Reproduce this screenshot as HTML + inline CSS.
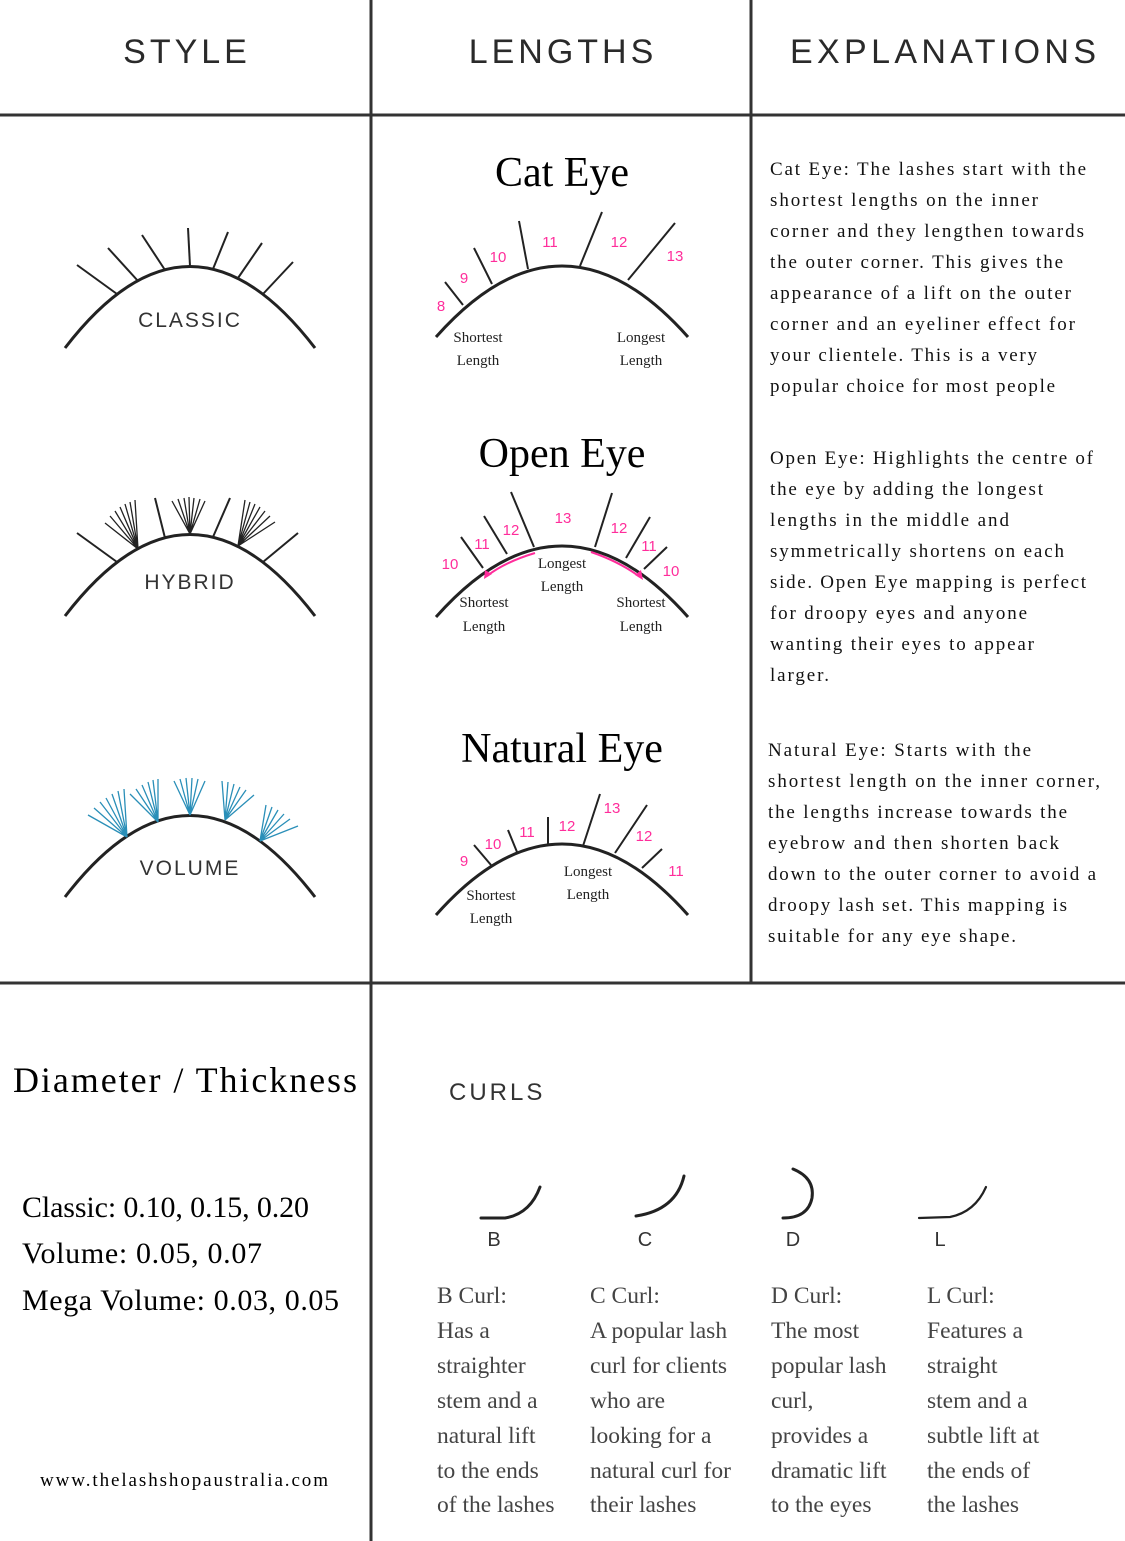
<!DOCTYPE html>
<html><head><meta charset="utf-8"><style>
html,body{margin:0;padding:0;background:#fff;}
svg{display:block}
.h{font-family:"Liberation Sans",sans-serif;font-size:34px;fill:#2a2a2a;letter-spacing:4px}
.t{font-family:"Liberation Serif",serif;fill:#000}
.e{font-family:"Liberation Serif",serif;font-size:19px;fill:#111}
.p{font-family:"Liberation Sans",sans-serif;font-size:15px;fill:#ff2d9b}
.s{font-family:"Liberation Serif",serif;font-size:15px;fill:#222}
.lab{font-family:"Liberation Sans",sans-serif;font-size:21px;fill:#333;letter-spacing:2px}
.c{font-family:"Liberation Serif",serif;font-size:23.5px;fill:#444}
</style></head><body>
<svg width="1125" height="1541" viewBox="0 0 1125 1541" xmlns="http://www.w3.org/2000/svg">
<g stroke="#333" stroke-width="3" fill="none">
<line x1="371" y1="0" x2="371" y2="1541"/>
<line x1="751" y1="0" x2="751" y2="983"/>
<line x1="0" y1="115" x2="1125" y2="115"/>
<line x1="0" y1="983" x2="1125" y2="983"/>
</g>
<text class="h" x="187" y="63" text-anchor="middle">STYLE</text>
<text class="h" x="563" y="63" text-anchor="middle">LENGTHS</text>
<text class="h" x="790" y="63" textLength="310">EXPLANATIONS</text>

<!-- Classic -->
<g stroke="#222" stroke-width="2" fill="none">
<path d="M65 348 Q190 185 315 348" stroke-width="3"/>
<line x1="117" y1="294" x2="77" y2="265"/>
<line x1="138" y1="281" x2="108" y2="248"/>
<line x1="165" y1="270" x2="142" y2="235"/>
<line x1="190" y1="266" x2="188" y2="228"/>
<line x1="213" y1="269" x2="228" y2="232"/>
<line x1="238" y1="278" x2="262" y2="243"/>
<line x1="263" y1="294" x2="293" y2="262"/>
</g>
<text class="lab" x="190" y="327" text-anchor="middle">CLASSIC</text>

<!-- Hybrid -->
<g stroke="#222" stroke-width="2" fill="none" transform="translate(0,268)">
<path d="M65 348 Q190 185 315 348" stroke-width="3"/>
<line x1="117" y1="294" x2="77" y2="265"/>
<line x1="165" y1="270" x2="155" y2="230"/>
<line x1="213" y1="269" x2="230" y2="230"/>
<line x1="263" y1="294" x2="298" y2="265"/>
<g stroke-width="1.3">
<path d="M138 281 L105 255 M138 281 L110 248 M138 281 L115 243 M138 281 L120 239 M138 281 L125 236 M138 281 L130 234 M138 281 L135 232"/>
<path d="M190 266 L172 233 M190 266 L178 231 M190 266 L184 230 M190 266 L189 229 M190 266 L194 230 M190 266 L200 231 M190 266 L205 233"/>
<path d="M238 278 L245 232 M238 278 L250 234 M238 278 L255 236 M238 278 L260 239 M238 278 L265 243 M238 278 L270 248 M238 278 L275 254"/>
</g>
</g>
<text class="lab" x="190" y="589" text-anchor="middle">HYBRID</text>

<!-- Volume -->
<g transform="translate(0,549)">
<path d="M65 348 Q190 185 315 348" stroke="#222" stroke-width="3" fill="none"/>
<g stroke="#2a8fb8" stroke-width="1.3" fill="none">
<path d="M127 288 L88 266 M127 288 L94 259 M127 288 L100 253 M127 288 L106 249 M127 288 L112 245 M127 288 L118 242 M127 288 L124 240"/>
<path d="M158 273 L130 245 M158 273 L136 240 M158 273 L142 236 M158 273 L148 233 M158 273 L153 231 M158 273 L158 230"/>
<path d="M190 266 L174 232 M190 266 L180 230 M190 266 L186 229 M190 266 L192 229 M190 266 L198 230 M190 266 L205 232"/>
<path d="M225 271 L222 232 M225 271 L228 233 M225 271 L234 235 M225 271 L240 238 M225 271 L246 241 M225 271 L254 246"/>
<path d="M260 292 L266 256 M260 292 L272 258 M260 292 L278 261 M260 292 L284 265 M260 292 L290 270 M260 292 L298 277"/>
</g>
</g>
<text class="lab" x="190" y="875" text-anchor="middle">VOLUME</text>

<!-- Cat Eye -->
<text class="t" x="562" y="186" font-size="42" text-anchor="middle">Cat Eye</text>
<g stroke="#222" stroke-width="2" fill="none">
<path d="M436 337 Q562 195 688 337" stroke-width="3"/>
<line x1="463" y1="305" x2="445" y2="282"/>
<line x1="492" y1="284" x2="474" y2="248"/>
<line x1="528" y1="269" x2="519" y2="221"/>
<line x1="580" y1="266" x2="602" y2="212"/>
<line x1="628" y1="280" x2="675" y2="223"/>
</g>
<text class="p" x="441" y="311" text-anchor="middle">8</text>
<text class="p" x="464" y="283" text-anchor="middle">9</text>
<text class="p" x="498" y="262" text-anchor="middle">10</text>
<text class="p" x="550" y="247" text-anchor="middle">11</text>
<text class="p" x="619" y="247" text-anchor="middle">12</text>
<text class="p" x="675" y="261" text-anchor="middle">13</text>
<text class="s" x="478" y="342" text-anchor="middle">Shortest</text>
<text class="s" x="478" y="365" text-anchor="middle">Length</text>
<text class="s" x="641" y="342" text-anchor="middle">Longest</text>
<text class="s" x="641" y="365" text-anchor="middle">Length</text>

<!-- Open Eye -->
<text class="t" x="562" y="467" font-size="42" text-anchor="middle">Open Eye</text>
<g stroke="#222" stroke-width="2" fill="none">
<path d="M436 617 Q562 475 688 617" stroke-width="3"/>
<line x1="483" y1="568" x2="461" y2="537"/>
<line x1="507" y1="554" x2="484" y2="516"/>
<line x1="534" y1="547" x2="511" y2="492"/>
<line x1="595" y1="547" x2="612" y2="493"/>
<line x1="626" y1="558" x2="650" y2="517"/>
<line x1="644" y1="569" x2="667" y2="547"/>
</g>
<g stroke="#ff2d9b" stroke-width="2" fill="none">
<path d="M535 553 Q505 562 487 576"/>
<path d="M591 552 Q620 562 640 577"/>
</g>
<path d="M484 579 L485 570 L492 574 Z" fill="#ff2d9b"/>
<path d="M643 580 L635 575 L641 570 Z" fill="#ff2d9b"/>
<text class="p" x="450" y="569" text-anchor="middle">10</text>
<text class="p" x="482" y="549" text-anchor="middle">11</text>
<text class="p" x="511" y="535" text-anchor="middle">12</text>
<text class="p" x="563" y="523" text-anchor="middle">13</text>
<text class="p" x="619" y="533" text-anchor="middle">12</text>
<text class="p" x="649" y="551" text-anchor="middle">11</text>
<text class="p" x="671" y="576" text-anchor="middle">10</text>
<text class="s" x="562" y="568" text-anchor="middle">Longest</text>
<text class="s" x="562" y="591" text-anchor="middle">Length</text>
<text class="s" x="484" y="607" text-anchor="middle">Shortest</text>
<text class="s" x="484" y="631" text-anchor="middle">Length</text>
<text class="s" x="641" y="607" text-anchor="middle">Shortest</text>
<text class="s" x="641" y="631" text-anchor="middle">Length</text>

<!-- Natural Eye -->
<text class="t" x="562" y="762" font-size="42" text-anchor="middle">Natural Eye</text>
<g stroke="#222" stroke-width="2" fill="none">
<path d="M436 915 Q562 773 688 915" stroke-width="3"/>
<line x1="491" y1="865" x2="474" y2="845"/>
<line x1="517" y1="852" x2="508" y2="830"/>
<line x1="548" y1="845" x2="548" y2="817"/>
<line x1="583" y1="846" x2="600" y2="794"/>
<line x1="615" y1="853" x2="647" y2="805"/>
<line x1="642" y1="868" x2="662" y2="849"/>
</g>
<text class="p" x="464" y="866" text-anchor="middle">9</text>
<text class="p" x="493" y="849" text-anchor="middle">10</text>
<text class="p" x="527" y="837" text-anchor="middle">11</text>
<text class="p" x="567" y="831" text-anchor="middle">12</text>
<text class="p" x="612" y="813" text-anchor="middle">13</text>
<text class="p" x="644" y="841" text-anchor="middle">12</text>
<text class="p" x="676" y="876" text-anchor="middle">11</text>
<text class="s" x="491" y="900" text-anchor="middle">Shortest</text>
<text class="s" x="491" y="923" text-anchor="middle">Length</text>
<text class="s" x="588" y="876" text-anchor="middle">Longest</text>
<text class="s" x="588" y="899" text-anchor="middle">Length</text>

<!-- Explanations -->
<g class="e">
<text x="770" y="175" textLength="316">Cat Eye: The lashes start with the</text>
<text x="770" y="206" textLength="268">shortest lengths on the inner</text>
<text x="770" y="237" textLength="314">corner and they lengthen towards</text>
<text x="770" y="268" textLength="293">the outer corner. This gives the</text>
<text x="770" y="299" textLength="301">appearance of a lift on the outer</text>
<text x="770" y="330" textLength="305">corner and an eyeliner effect for</text>
<text x="770" y="361" textLength="267">your clientele. This is a very</text>
<text x="770" y="392" textLength="285">popular choice for most people</text>
<text x="770" y="464" textLength="323">Open Eye: Highlights the centre of</text>
<text x="770" y="495" textLength="273">the eye by adding the longest</text>
<text x="770" y="526" textLength="239">lengths in the middle and</text>
<text x="770" y="557" textLength="294">symmetrically shortens on each</text>
<text x="770" y="588" textLength="316">side. Open Eye mapping is perfect</text>
<text x="770" y="619" textLength="257">for droopy eyes and anyone</text>
<text x="770" y="650" textLength="264">wanting their eyes to appear</text>
<text x="770" y="681" textLength="59">larger.</text>
<text x="768" y="756" textLength="263">Natural Eye: Starts with the</text>
<text x="768" y="787" textLength="332">shortest length on the inner corner,</text>
<text x="768" y="818" textLength="299">the lengths increase towards the</text>
<text x="768" y="849" textLength="291">eyebrow and then shorten back</text>
<text x="768" y="880" textLength="328">down to the outer corner to avoid a</text>
<text x="768" y="911" textLength="299">droopy lash set. This mapping is</text>
<text x="768" y="942" textLength="248">suitable for any eye shape.</text>
</g>

<!-- Bottom left -->
<text class="t" x="13" y="1092" font-size="36" textLength="344">Diameter / Thickness</text>
<text class="t" x="22" y="1217" font-size="30" fill="#111" textLength="287">Classic: 0.10, 0.15, 0.20</text>
<text class="t" x="22" y="1263" font-size="30" fill="#111" textLength="240">Volume: 0.05, 0.07</text>
<text class="t" x="22" y="1310" font-size="30" fill="#111" textLength="317">Mega Volume: 0.03, 0.05</text>
<text class="t" x="40" y="1486" font-size="19" fill="#222" textLength="288">www.thelashshopaustralia.com</text>

<!-- Curls -->
<text x="449" y="1100" font-family="Liberation Sans, sans-serif" font-size="24" fill="#333" letter-spacing="3">CURLS</text>
<g stroke="#222" stroke-width="3" fill="none" stroke-linecap="round">
<path d="M481 1218 L505 1218 Q530 1214 540 1187"/>
<path d="M636 1216 Q676 1210 684 1176"/>
<path d="M793 1169 Q815 1178 812 1198 Q808 1218 783 1218"/>
<path d="M919 1218 L950 1217 Q975 1212 986 1187" stroke-width="2.2"/>
</g>
<g font-family="Liberation Sans, sans-serif" font-size="20" fill="#333" text-anchor="middle">
<text x="494" y="1246">B</text><text x="645" y="1246">C</text><text x="793" y="1246">D</text><text x="940" y="1246">L</text>
</g>
<g class="c">
<text x="437" y="1303">B Curl:</text><text x="437" y="1338">Has a</text><text x="437" y="1373">straighter</text><text x="437" y="1408">stem and a</text><text x="437" y="1443">natural lift</text><text x="437" y="1478">to the ends</text><text x="437" y="1512">of the lashes</text>
<text x="590" y="1303">C Curl:</text><text x="590" y="1338">A popular lash</text><text x="590" y="1373">curl for clients</text><text x="590" y="1408">who are</text><text x="590" y="1443">looking for a</text><text x="590" y="1478">natural curl for</text><text x="590" y="1512">their lashes</text>
<text x="771" y="1303">D Curl:</text><text x="771" y="1338">The most</text><text x="771" y="1373">popular lash</text><text x="771" y="1408">curl,</text><text x="771" y="1443">provides a</text><text x="771" y="1478">dramatic lift</text><text x="771" y="1512">to the eyes</text>
<text x="927" y="1303">L Curl:</text><text x="927" y="1338">Features a</text><text x="927" y="1373">straight</text><text x="927" y="1408">stem and a</text><text x="927" y="1443">subtle lift at</text><text x="927" y="1478">the ends of</text><text x="927" y="1512">the lashes</text>
</g>
</svg>
</body></html>
